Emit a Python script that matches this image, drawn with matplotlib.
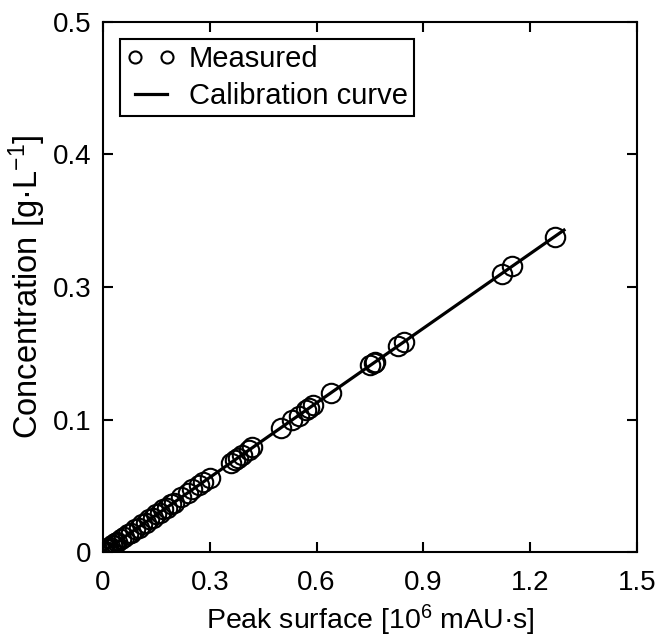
import matplotlib
matplotlib.use("Agg")
import matplotlib.pyplot as plt

plt.rcParams['font.family'] = ['Liberation Sans', 'DejaVu Sans']
plt.rcParams['mathtext.fontset'] = 'custom'
plt.rcParams['mathtext.rm'] = 'Liberation Sans'
plt.rcParams['mathtext.it'] = 'Liberation Sans'

# measured peak surfaces [10^6 mAU*s] and concentrations [g/L]
peak_surface = [0.0, 0.003, 0.006, 0.01, 0.012, 0.015, 0.02, 0.025, 0.03, 0.035,
                0.04, 0.05, 0.06, 0.07, 0.08, 0.09, 0.10, 0.11, 0.12, 0.13,
                0.14, 0.15, 0.16, 0.17, 0.18, 0.19, 0.20, 0.22, 0.24, 0.25,
                0.27, 0.28, 0.30, 0.36, 0.37, 0.38, 0.39, 0.41, 0.42, 0.50,
                0.53, 0.55, 0.57, 0.58, 0.59, 0.64, 0.75, 0.76, 0.765, 0.83,
                0.845, 1.12, 1.15, 1.27]
concentration = [0.0, 0.0009, 0.0012, 0.0026, 0.0025, 0.0038, 0.0044, 0.0062, 0.0068, 0.0086,
                 0.0091, 0.0121, 0.0138, 0.0168, 0.0184, 0.0215, 0.0231, 0.0262, 0.0278, 0.0309,
                 0.0324, 0.0356, 0.0371, 0.0403, 0.0418, 0.0450, 0.0465, 0.0520, 0.0560, 0.0590,
                 0.0630, 0.0660, 0.0702, 0.0840, 0.0871, 0.0888, 0.0918, 0.0958, 0.0988, 0.1170,
                 0.1246, 0.1287, 0.1340, 0.1357, 0.1387, 0.1498, 0.1762, 0.1779, 0.1797, 0.1943,
                 0.1985, 0.2622, 0.2700, 0.2975]

# calibration curve endpoints
fit_x = [0.0, 1.295]
fit_y = [0.0, 0.3037]

xticks = [0, 0.3, 0.6, 0.9, 1.2, 1.5]
xtick_labels = ['0', '0.3', '0.6', '0.9', '1.2', '1.5']
yticks = [0, 0.125, 0.25, 0.375, 0.5]
ytick_labels = ['0', '0.1', '0.3', '0.4', '0.5']

fig = plt.figure(figsize=(6.7, 6.43), dpi=100)
ax = fig.add_axes([0.1537, 0.1415, 0.797, 0.8243])

ax.plot(peak_surface, concentration, 'o', mfc='none', mec='black', ms=14, mew=1.5,
        label='Measured')
ax.plot(fit_x, fit_y, '-', color='black', lw=2.3, label='Calibration curve')

ax.set_xlim(0, 1.5)
ax.set_ylim(0, 0.5)
ax.set_xticks(xticks)
ax.set_xticklabels(xtick_labels)
ax.set_yticks(yticks)
ax.set_yticklabels(ytick_labels)
ax.tick_params(direction='in', length=7, width=1.5, top=True, right=True, labelsize=20)
ax.tick_params(axis='x', pad=13)
ax.tick_params(axis='y', pad=8)
for s in ax.spines.values():
    s.set_linewidth(1.5)

ax.set_xlabel('Peak surface [10$^6$ mAU·s]', fontsize=20.5, labelpad=5)
ax.set_ylabel('Concentration [g·L$^{-1}$]', fontsize=23.5, labelpad=4)

leg = ax.legend(loc='upper left', numpoints=2, fontsize=21, frameon=True, fancybox=False,
                markerscale=0.62, borderpad=0.2, handlelength=1.7, handletextpad=0.45,
                labelspacing=0.3, borderaxespad=0.6)
leg.get_frame().set_edgecolor('black')
leg.get_frame().set_linewidth(1.5)
leg.get_frame().set_alpha(1)

fig.savefig('out.png', dpi=100)
